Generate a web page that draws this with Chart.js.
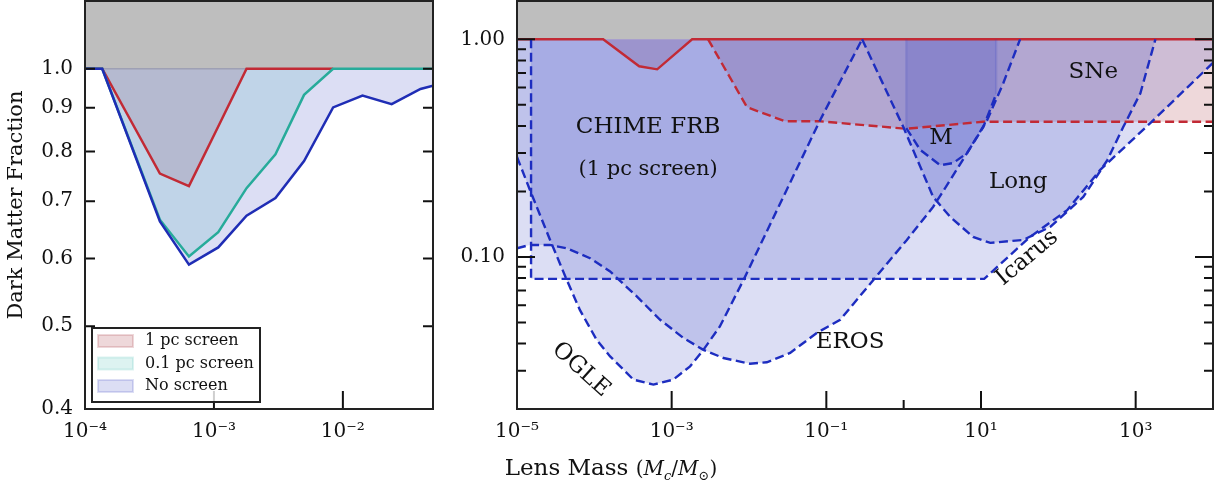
<!DOCTYPE html>
<html>
<head>
<meta charset="utf-8">
<script src="https://cdn.jsdelivr.net/npm/chart.js@4.4.1/dist/chart.umd.min.js"></script>
<style>
  body { margin: 0; background: #fff; width: 1222px; height: 491px; position: relative; overflow: hidden; font-family: "DejaVu Serif", serif; color: #111; }
  #left { position: absolute; left: 0; top: 0; }
  #right { position: absolute; left: 440px; top: 0; }
  #xlabel { position: absolute; left: 0; top: 454px; width: 1222px; text-align: center; font-size: 23px; line-height: 27px; }
  #xlabel .m { font-size: 20px; }
  #xlabel sub { font-size: 13px; }
</style>
</head>
<body>
<canvas id="left" width="440" height="491"></canvas>
<canvas id="right" width="782" height="491"></canvas>
<div id="xlabel">Lens Mass <span class="m">(<i>M</i><sub><i>c</i></sub>/<i>M</i><sub>⊙</sub>)</span></div>
<script>
// left panel: constraint for different screen distances
const screenMass = [1e-4, 1.36e-4, 3.81e-4, 6.4e-4, 1.08e-3, 1.79e-3, 3.0e-3, 5.0e-3, 8.4e-3, 1.42e-2, 2.39e-2, 4.0e-2, 5.0e-2];
const onePcScreen = [1, 1, 0.754, 0.729, 0.856, 1, 1, 1, 1];
const tenthPcScreen = [1, 1, 0.666, 0.603, 0.644, 0.725, 0.794, 0.932, 1, 1, 1, 1, 1];
const noScreen = [1, 1, 0.663, 0.590, 0.618, 0.673, 0.706, 0.780, 0.901, 0.930, 0.909, 0.947, 0.955];
const leftBandMass = [1e-4, 5e-2];
const leftBandFrac = [1, 1];
const leftXTicks = [1e-4, 1e-3, 1e-2];
const leftXLabels = ['10⁻⁴', '10⁻³', '10⁻²'];
const leftYTicks = [0.4, 0.5, 0.6, 0.7, 0.8, 0.9, 1.0];
const leftYLabels = ['0.4', '0.5', '0.6', '0.7', '0.8', '0.9', '1.0'];

// right panel: CHIME FRB vs microlensing constraints
const frbMass = [1e-5, 1.3e-4, 3.8e-4, 6.5e-4, 1.84e-3, 1e4];
const frbFrac = [1, 1, 0.752, 0.728, 1, 1];
const frbExtMass = [2.96e-3, 9.4e-3, 2.93e-2, 8.3e-2, 1.08, 10.5, 1e4];
const frbExtFrac = [1, 0.488, 0.42, 0.42, 0.388, 0.418, 0.418];
const icarusMass = [1.52e-5, 1.52e-5, 11, 43, 130, 348, 1545, 1e4];
const icarusFrac = [1, 0.0793, 0.0793, 0.1235, 0.164, 0.251, 0.412, 0.78];
const ogleMass = [1e-5, 1.47e-5, 2.67e-5, 4.4e-5, 6.5e-5, 1.07e-4, 1.6e-4, 3.2e-4, 5.8e-4, 1.05e-3, 1.73e-3, 2.57e-3, 4.2e-3, 8.5e-3, 8.3e-2, 0.29];
const ogleFrac = [0.288, 0.203, 0.120, 0.0784, 0.0571, 0.0416, 0.0349, 0.0273, 0.0259, 0.0273, 0.0314, 0.0374, 0.0479, 0.0784, 0.425, 1];
const erosMass = [1e-5, 1.47e-5, 2.67e-5, 4.4e-5, 8.8e-5, 1.6e-4, 3.54e-4, 7.1e-4, 1.42e-3, 2.57e-3, 4.67e-3, 1.03e-2, 1.7e-2, 3.4e-2, 7.5e-2, 0.151, 0.406, 1.1, 2.41, 4.0, 6.6, 12, 19.4, 32];
const erosFrac = [0.1096, 0.1135, 0.1135, 0.1096, 0.0986, 0.0857, 0.0658, 0.0514, 0.0424, 0.0374, 0.0343, 0.0323, 0.0328, 0.0362, 0.0447, 0.0514, 0.0784, 0.1197, 0.170, 0.2256, 0.300, 0.425, 0.628, 1];
const longMass = [0.29, 0.99, 2.41, 4.0, 7.9, 13.2, 35, 78.5, 210, 430, 690, 1150, 1800];
const longFrac = [1, 0.395, 0.1885, 0.1527, 0.1235, 0.116, 0.1197, 0.1374, 0.1885, 0.2786, 0.395, 0.565, 1];
const mMass = [1.08, 1.08, 1.64, 2.97, 4.37, 6.6, 10.7, 15.7, 15.7];
const mFrac = [1, 0.391, 0.31, 0.264, 0.27, 0.30, 0.395, 0.56, 1];
const rightBandMass = [1e-5, 1e4];
const rightBandFrac = [1, 1];
const massTicks = [1e-5, 1e-3, 1e-1, 1e1, 1e3];
const massTickLabels = ['10⁻⁵', '10⁻³', '10⁻¹', '10¹', '10³'];
const massMinorTicks = [1];
const fracTicks = [0.1, 1.0];
const fracTickLabels = ['0.10', '1.00'];
const fracMinorTicks = [0.02, 0.03, 0.04, 0.05, 0.06, 0.07, 0.08, 0.09, 0.2, 0.3, 0.4, 0.5, 0.6, 0.7, 0.8, 0.9];

const regionLabels = ['CHIME FRB', '(1 pc screen)', 'SNe', 'M', 'Long', 'EROS', 'Icarus', 'OGLE'];
const labelMass = [4.96e-4, 4.96e-4, 283, 3.05, 30.3, 0.203, 39.6, 6.7e-5];
const labelFrac = [0.395, 0.251, 0.706, 0.351, 0.221, 0.0407, 0.0989, 0.0303];
const labelAngle = [0, 0, 0, 0, 0, 0, -40, 42];

const serif = '"DejaVu Serif", serif';
const ink = '#111';
const blueLine = '#1d2dc0';
const blueFill = 'rgba(50,60,190,0.17)';
const redLine = '#c22a35';
const redFill = 'rgba(170,60,70,0.2)';
const tealLine = '#27ab9a';
const tealFill = 'rgba(85,195,185,0.2)';
const bandGray = '#bebebe';
const dash = [9, 4.5];

function pts(xs, ys) {
  return ys.map((v, i) => ({ x: xs[i], y: v }));
}

// inward ticks on the frame, like the matplotlib original
const axisFrame = {
  id: 'axisFrame',
  afterDatasetsDraw(chart, args, o) {
    const { ctx, chartArea: a, scales: { x, y } } = chart;
    ctx.save();
    ctx.strokeStyle = ink;
    ctx.lineWidth = 2;
    ctx.beginPath();
    const xt = (v, len) => { const px = x.getPixelForValue(v); ctx.moveTo(px, a.bottom); ctx.lineTo(px, a.bottom - len); };
    const yt = (v, len) => {
      const py = y.getPixelForValue(v);
      ctx.moveTo(a.left, py); ctx.lineTo(a.left + len, py);
      ctx.moveTo(a.right, py); ctx.lineTo(a.right - len, py);
    };
    o.xMajor.forEach(v => xt(v, o.xLen));
    (o.xMinor || []).forEach(v => xt(v, o.xMinorLen));
    o.yMajor.forEach(v => yt(v, o.yLen));
    (o.yMinor || []).forEach(v => yt(v, o.yMinorLen));
    ctx.stroke();
    ctx.strokeStyle = '#222';
    ctx.lineWidth = 2;
    ctx.strokeRect(a.left, a.top, a.width, a.height);
    ctx.restore();
  }
};

const screenLegend = {
  id: 'screenLegend',
  afterDraw(chart) {
    const { ctx, chartArea: a } = chart;
    const items = [2, 1, 0].map(i => chart.data.datasets[i]);
    const bx = a.left + 7, by = a.bottom - 81, bw = 168, bh = 74;
    ctx.save();
    ctx.fillStyle = 'rgba(255,255,255,0.8)';
    ctx.fillRect(bx, by, bw, bh);
    ctx.strokeStyle = '#222';
    ctx.lineWidth = 2;
    ctx.strokeRect(bx, by, bw, bh);
    ctx.font = '16px ' + serif;
    ctx.textBaseline = 'middle';
    items.forEach((ds, k) => {
      const cy = by + 13 + k * 22.5;
      ctx.fillStyle = ds.backgroundColor;
      ctx.fillRect(bx + 6, cy - 6, 35, 12);
      ctx.strokeStyle = ds.backgroundColor;
      ctx.lineWidth = 2;
      ctx.strokeRect(bx + 6, cy - 6, 35, 12);
      ctx.fillStyle = ink;
      ctx.fillText(ds.label, bx + 53, cy);
    });
    ctx.restore();
  }
};

const regionText = {
  id: 'regionText',
  afterDatasetsDraw(chart) {
    const { ctx, scales: { x, y } } = chart;
    ctx.save();
    ctx.fillStyle = ink;
    ctx.textAlign = 'center';
    ctx.textBaseline = 'middle';
    regionLabels.forEach((t, i) => {
      ctx.save();
      ctx.translate(x.getPixelForValue(labelMass[i]), y.getPixelForValue(labelFrac[i]));
      ctx.rotate(labelAngle[i] * Math.PI / 180);
      ctx.font = (i === 1 ? 21 : 23) + 'px ' + serif;
      ctx.fillText(t, 0, 0);
      ctx.restore();
    });
    ctx.restore();
  }
};

function logAxis(min, max, ticks, labels, fitSize, horizontal) {
  return {
    type: 'logarithmic', min: min, max: max,
    grid: { display: false, drawTicks: false },
    border: { display: false },
    afterBuildTicks: s => { s.ticks = ticks.map(v => ({ value: v })); },
    afterFit: s => {
      if (horizontal) {
        s.height = fitSize;
      } else {
        s.width = fitSize;
        s.paddingTop = 0;
        s.paddingBottom = 0;
      }
    },
    ticks: {
      autoSkip: false, maxRotation: 0, padding: horizontal ? 11 : 12, color: ink,
      font: { family: serif, size: 20 },
      callback: (v, i) => labels[i]
    }
  };
}

const common = {
  responsive: false, animation: false, events: [], devicePixelRatio: 1,
  elements: { point: { radius: 0 }, line: { tension: 0 } }
};

const leftY = logAxis(0.4, 1.2, leftYTicks, leftYLabels, 85, false);
leftY.title = { display: true, text: 'Dark Matter Fraction', color: ink, font: { family: serif, size: 21 }, padding: { top: 4, bottom: 4 } };

new Chart(document.getElementById('left'), {
  type: 'line',
  data: {
    datasets: [
      { label: 'No screen', data: pts(screenMass, noScreen), borderColor: '#1f2db5', backgroundColor: blueFill, borderWidth: 2.5, fill: { value: 1 } },
      { label: '0.1 pc screen', data: pts(screenMass, tenthPcScreen), borderColor: tealLine, backgroundColor: tealFill, borderWidth: 2.5, fill: { value: 1 } },
      { label: '1 pc screen', data: pts(screenMass, onePcScreen), borderColor: redLine, backgroundColor: redFill, borderWidth: 2.5, fill: { value: 1 } },
      { label: 'excluded', data: pts(leftBandMass, leftBandFrac), borderColor: '#9ea0b4', backgroundColor: bandGray, borderWidth: 1.5, fill: 'end' }
    ]
  },
  options: Object.assign({}, common, {
    layout: { padding: { top: 1, right: 7, left: 0, bottom: 0 } },
    plugins: {
      legend: { display: false }, tooltip: { enabled: false },
      filler: { drawTime: 'beforeDatasetsDraw' },
      axisFrame: { xMajor: leftXTicks, xLen: 18, yMajor: leftYTicks, yLen: 10 }
    },
    scales: {
      x: logAxis(1e-4, 5e-2, leftXTicks, leftXLabels, 82, true),
      y: leftY
    }
  }),
  plugins: [axisFrame, screenLegend]
});

const mSides = ctx => ctx.p0.parsed.x === ctx.p1.parsed.x;

new Chart(document.getElementById('right'), {
  type: 'line',
  data: {
    datasets: [
      { label: 'M', data: pts(mMass, mFrac), borderColor: blueLine, backgroundColor: blueFill, borderWidth: 2.4, borderDash: dash, fill: { value: 1 },
        segment: { borderColor: c => mSides(c) ? 'rgba(50,60,190,0.18)' : blueLine, borderDash: c => mSides(c) ? [] : dash } },
      { label: 'Long', data: pts(longMass, longFrac), borderColor: blueLine, backgroundColor: blueFill, borderWidth: 2.4, borderDash: dash, fill: { value: 1 } },
      { label: 'EROS', data: pts(erosMass, erosFrac), borderColor: blueLine, backgroundColor: blueFill, borderWidth: 2.4, borderDash: dash, fill: { value: 1 } },
      { label: 'OGLE', data: pts(ogleMass, ogleFrac), borderColor: blueLine, backgroundColor: blueFill, borderWidth: 2.4, borderDash: dash, fill: { value: 1 } },
      { label: 'Icarus', data: pts(icarusMass, icarusFrac), borderColor: blueLine, backgroundColor: blueFill, borderWidth: 2.4, borderDash: dash, fill: { value: 1 } },
      { label: 'CHIME FRB extension', data: pts(frbExtMass, frbExtFrac), borderColor: redLine, backgroundColor: redFill, borderWidth: 2.4, borderDash: dash, fill: { value: 1 } },
      { label: 'CHIME FRB (1 pc screen)', data: pts(frbMass, frbFrac), borderColor: redLine, backgroundColor: redFill, borderWidth: 2.4, fill: { value: 1 } },
      { label: 'excluded', data: pts(rightBandMass, rightBandFrac), borderColor: bandGray, backgroundColor: bandGray, borderWidth: 0, fill: 'end' }
    ]
  },
  options: Object.assign({}, common, {
    layout: { padding: { top: 1, right: 9, left: 0, bottom: 0 } },
    plugins: {
      legend: { display: false }, tooltip: { enabled: false },
      filler: { drawTime: 'beforeDatasetsDraw' },
      axisFrame: { xMajor: massTicks, xLen: 18, xMinor: massMinorTicks, xMinorLen: 9, yMajor: fracTicks, yLen: 18, yMinor: fracMinorTicks, yMinorLen: 9 }
    },
    scales: {
      x: logAxis(1e-5, 1e4, massTicks, massTickLabels, 82, true),
      y: logAxis(0.02, 1.5, fracTicks, fracTickLabels, 77, false)
    }
  }),
  plugins: [regionText, axisFrame]
});
</script>
</body>
</html>
